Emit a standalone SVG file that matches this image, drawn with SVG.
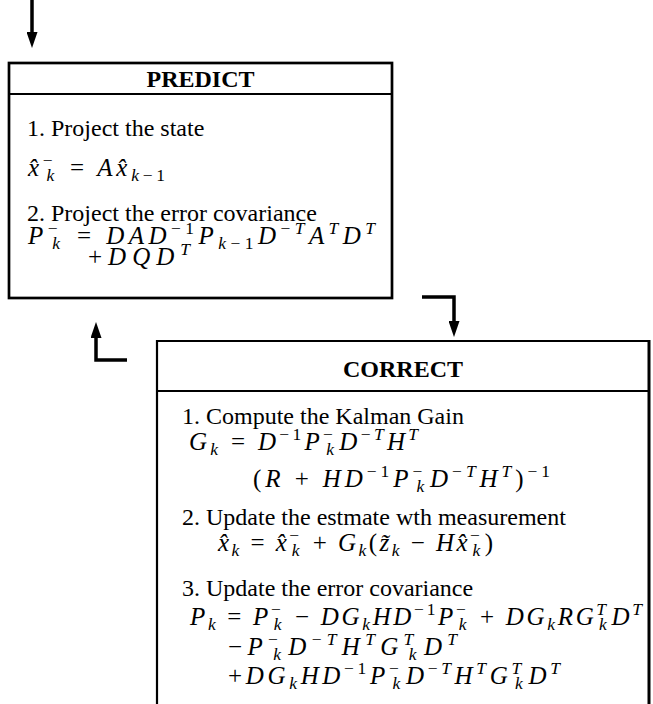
<svg xmlns="http://www.w3.org/2000/svg" width="653" height="704" viewBox="0 0 653 704">
<defs>
<style>
.t { font-family: "Liberation Serif", "Times New Roman", serif; font-size: 24px; fill: #000; }
.h { font-family: "Liberation Serif", "Times New Roman", serif; font-size: 24px; font-weight: bold; fill: #000; text-anchor: middle; }
.m { font-family: "Liberation Serif", "Times New Roman", serif; font-style: italic; font-size: 25px; fill: #000; }
.s { font-size: 17.5px; }
.u { font-style: normal; }
.box { fill: none; stroke: #000; stroke-width: 2.7; }
.sep { stroke: #000; stroke-width: 1.8; }
.arrow { fill: none; stroke: #000; stroke-width: 3.5; marker-end: url(#head); }
</style>
<marker id="head" viewBox="0 0 16 11" refX="2" refY="5.5" markerWidth="16" markerHeight="11" markerUnits="userSpaceOnUse" orient="auto">
<path d="M0,0 L16,5.5 L0,11 z" fill="#000"/>
</marker>
</defs>

<g id="connectors">
<path class="arrow" d="M32,0 V34"/>
<path class="arrow" d="M422,297 H454 V323"/>
<path class="arrow" d="M127,360 H96 V336"/>
</g>

<g id="predict">
<rect class="box" x="9" y="63" width="383" height="235"/>
<line class="sep" x1="9" y1="94" x2="392" y2="94"/>
<text class="h" x="200.5" y="87">PREDICT</text>
<text class="t" x="27" y="136">1. Project the state</text>
<text class="m" x="28" y="176" textLength="137" lengthAdjust="spacing">x̂<tspan class="s u" dy="-10">−</tspan><tspan class="s" dx="-9.9" dy="15">k</tspan><tspan dx="2" dy="-5"> </tspan><tspan class="u">=</tspan> Ax̂<tspan class="s" dy="5">k<tspan class="u">−1</tspan></tspan></text>
<text class="t" x="27" y="221">2. Project the error covariance</text>
<text class="m" x="28" y="244" textLength="347" lengthAdjust="spacing">P<tspan class="s u" dy="-10">−</tspan><tspan class="s" dx="-9.9" dy="15">k</tspan><tspan dx="2" dy="-5"> </tspan><tspan class="u">=</tspan> DAD<tspan class="s u" dy="-10">−1</tspan><tspan dy="10">P</tspan><tspan class="s" dy="5">k<tspan class="u">−1</tspan></tspan><tspan dy="-5">D</tspan><tspan class="s" dy="-10"><tspan class="u">−</tspan>T</tspan><tspan dy="10">A</tspan><tspan class="s" dy="-10">T</tspan><tspan dy="10">D</tspan><tspan class="s" dy="-10">T</tspan></text>
<text class="m" x="88" y="265" textLength="102" lengthAdjust="spacing"><tspan class="u">+</tspan>DQD<tspan class="s" dy="-10">T</tspan></text>
</g>

<g id="correct">
<path class="box" style="stroke-width:2.2" d="M157,706 V341 H649"/>
<line x1="649" y1="340" x2="649" y2="706" stroke="#000" stroke-width="3"/>
<line class="sep" x1="157" y1="391" x2="649" y2="391"/>
<text class="h" x="403" y="377">CORRECT</text>
<text class="t" x="182" y="424">1. Compute the Kalman Gain</text>
<text class="m" x="189" y="450" textLength="229" lengthAdjust="spacing">G<tspan class="s" dy="5">k</tspan><tspan dy="-5"> </tspan><tspan class="u">=</tspan> D<tspan class="s u" dy="-10">−1</tspan><tspan dy="10">P</tspan><tspan class="s u" dy="-10">−</tspan><tspan class="s" dx="-9.9" dy="15">k</tspan><tspan dx="2" dy="-5">D</tspan><tspan class="s" dy="-10"><tspan class="u">−</tspan>T</tspan><tspan dy="10">H</tspan><tspan class="s" dy="-10">T</tspan></text>
<text class="m" x="253" y="487" textLength="297" lengthAdjust="spacing"><tspan class="u">(</tspan>R <tspan class="u">+</tspan> HD<tspan class="s u" dy="-10">−1</tspan><tspan dy="10">P</tspan><tspan class="s u" dy="-10">−</tspan><tspan class="s" dx="-9.9" dy="15">k</tspan><tspan dx="2" dy="-5">D</tspan><tspan class="s" dy="-10"><tspan class="u">−</tspan>T</tspan><tspan dy="10">H</tspan><tspan class="s" dy="-10">T</tspan><tspan class="u" dy="10">)</tspan><tspan class="s u" dy="-10">−1</tspan></text>
<text class="t" x="182" y="525">2. Update the estmate wth measurement</text>
<text class="m" x="218" y="551" textLength="275" lengthAdjust="spacing">x̂<tspan class="s" dy="5">k</tspan><tspan dy="-5"> </tspan><tspan class="u">=</tspan> x̂<tspan class="s u" dy="-10">−</tspan><tspan class="s" dx="-9.9" dy="15">k</tspan><tspan dx="2" dy="-5"> </tspan><tspan class="u">+</tspan> G<tspan class="s" dy="5">k</tspan><tspan class="u" dy="-5">(</tspan>z̃<tspan class="s" dy="5">k</tspan><tspan dy="-5"> </tspan><tspan class="u">−</tspan> Hx̂<tspan class="s u" dy="-10">−</tspan><tspan class="s" dx="-9.9" dy="15">k</tspan><tspan class="u" dx="2" dy="-5">)</tspan></text>
<text class="t" x="182" y="596">3. Update the error covariance</text>
<text class="m" x="190" y="625" textLength="452" lengthAdjust="spacing">P<tspan class="s" dy="5">k</tspan><tspan dy="-5"> </tspan><tspan class="u">=</tspan> P<tspan class="s u" dy="-10">−</tspan><tspan class="s" dx="-9.9" dy="15">k</tspan><tspan dx="2" dy="-5"> </tspan><tspan class="u">−</tspan> DG<tspan class="s" dy="5">k</tspan><tspan dy="-5">HD</tspan><tspan class="s u" dy="-10">−1</tspan><tspan dy="10">P</tspan><tspan class="s u" dy="-10">−</tspan><tspan class="s" dx="-9.9" dy="15">k</tspan><tspan dx="2" dy="-5"> </tspan><tspan class="u">+</tspan> DG<tspan class="s" dy="5">k</tspan><tspan dy="-5">RG</tspan><tspan class="s" dy="-10">T</tspan><tspan class="s" dx="-9.7" dy="15">k</tspan><tspan dx="2" dy="-5">D</tspan><tspan class="s" dy="-10">T</tspan></text>
<text class="m" x="228" y="655" textLength="229" lengthAdjust="spacing"><tspan class="u">−</tspan>P<tspan class="s u" dy="-10">−</tspan><tspan class="s" dx="-9.9" dy="15">k</tspan><tspan dx="2" dy="-5">D</tspan><tspan class="s" dy="-10"><tspan class="u">−</tspan>T</tspan><tspan dy="10">H</tspan><tspan class="s" dy="-10">T</tspan><tspan dy="10">G</tspan><tspan class="s" dy="-10">T</tspan><tspan class="s" dx="-9.7" dy="15">k</tspan><tspan dx="2" dy="-5">D</tspan><tspan class="s" dy="-10">T</tspan></text>
<text class="m" x="228" y="684" textLength="332" lengthAdjust="spacing"><tspan class="u">+</tspan>DG<tspan class="s" dy="5">k</tspan><tspan dy="-5">HD</tspan><tspan class="s u" dy="-10">−1</tspan><tspan dy="10">P</tspan><tspan class="s u" dy="-10">−</tspan><tspan class="s" dx="-9.9" dy="15">k</tspan><tspan dx="2" dy="-5">D</tspan><tspan class="s" dy="-10"><tspan class="u">−</tspan>T</tspan><tspan dy="10">H</tspan><tspan class="s" dy="-10">T</tspan><tspan dy="10">G</tspan><tspan class="s" dy="-10">T</tspan><tspan class="s" dx="-9.7" dy="15">k</tspan><tspan dx="2" dy="-5">D</tspan><tspan class="s" dy="-10">T</tspan></text>
</g>
</svg>
